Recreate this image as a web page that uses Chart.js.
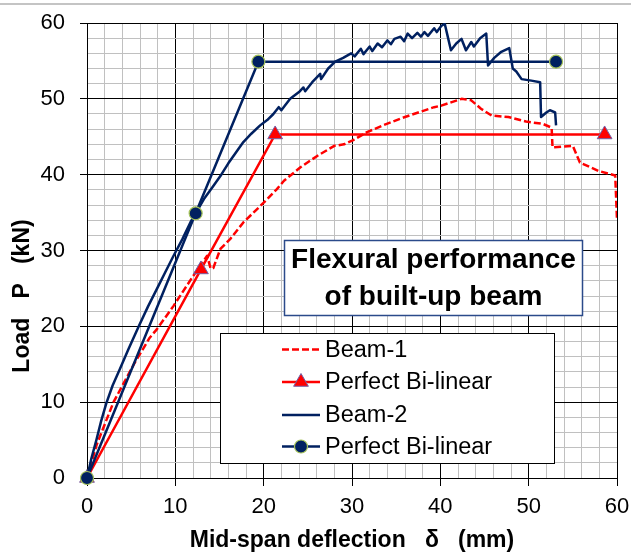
<!DOCTYPE html>
<html><head><meta charset="utf-8">
<script src="https://cdn.jsdelivr.net/npm/chart.js@4.4.1/dist/chart.umd.min.js"></script>
<style>html,body{margin:0;padding:0;background:#fff;}canvas{display:block;}</style>
</head><body>
<canvas id="c" width="631" height="555"></canvas>
<script>
// ---- data ----
const beam1X = [0,1.1,3.0,5.4,7.1,7.9,9.8,12.0,13.0,13.6,14.0,14.3,15.1,16.2,17.7,19.2,20.0,21.5,22.3,24.2,26.1,28.0,29.1,30.2,31.7,33.5,35.5,37.5,39.3,40.1,42.4,43.5,44.6,45.8,47.7,49.7,51.6,52.6,52.7,55.0,55.8,57.9,59.8,60.0];
const beam1Y = [0,4.4,10.0,15.2,18.5,19.6,22.7,26.6,28.3,29.3,27.6,27.7,30.2,31.5,33.7,35.4,36.3,38.1,39.2,41.0,42.5,43.8,44.0,44.6,45.6,46.5,47.4,48.2,48.9,49.1,50.0,49.8,48.7,47.8,47.6,47.0,46.7,46.2,43.6,43.8,41.6,40.5,39.9,34.0];
const bilin1X = [0,12.9,21.3,58.6];
const bilin1Y = [0,27.5,45.3,45.3];
const beam2X = [0,0.5,1.06,1.6,2.2,2.9,3.7,4.7,5.9,6.9,7.9,8.8,9.8,10.8,11.7,12.5,13.3,14.3,15.2,16.0,16.9,17.7,18.6,19.6,20.4,21.1,21.7,22.0,23.0,24.0,24.5,24.7,25.5,26.4,26.5,27.3,28.1,29.0,29.9,30.3,31.0,31.3,32.0,32.3,32.9,33.4,34.0,34.4,34.8,35.5,35.9,36.3,36.8,37.4,37.8,38.2,38.6,39.3,39.6,40.1,40.5,40.8,41.2,41.8,42.4,42.9,43.5,43.8,44.5,45.2,45.4,46.1,46.9,47.8,48.2,48.6,49.2,50.3,51.3,51.4,52.0,52.4,53.0,53.1];
const beam2Y = [0,2.6,5.0,7.5,9.9,12.2,14.3,17.0,20.1,22.6,24.9,27.0,29.3,31.5,33.7,35.3,36.9,38.5,40.0,41.5,43.0,44.3,45.4,46.5,47.2,48.0,48.9,48.5,50.0,50.9,51.5,51.0,52.2,53.3,52.6,54.0,54.9,55.4,56.0,55.6,56.6,55.9,56.9,56.3,57.3,56.8,57.7,57.2,57.9,58.2,57.6,58.6,58.0,58.7,58.2,58.8,58.3,59.3,58.8,59.6,59.9,58.4,56.4,57.3,57.9,56.4,57.5,56.9,58.0,58.6,54.4,55.4,56.2,56.7,54.0,53.6,52.6,52.4,52.2,47.6,48.2,48.5,48.2,46.5];
const bilin2X = [0,12.3,19.4,53.1];
const bilin2Y = [0,34.9,54.9,54.9];
const seriesNames = ['Beam-1','Perfect Bi-linear','Beam-2','Perfect Bi-linear'];
const xTickLabels = [0,10,20,30,40,50,60];
const yTickLabels = [0,10,20,30,40,50,60];
const xTitle = 'Mid-span deflection   \u03b4   (mm)';
const yTitle = 'Load   P   (kN)';
const boxTitle = ['Flexural performance','of built-up beam'];

const FONT = '"Liberation Sans", Arial, Helvetica, sans-serif';
const RED = '#FF0000', NAVY = '#002060';

function pts(xs, ys){ return xs.map((x,i)=>({x:x, y:ys[i]})); }

const majorColor = c => (c.tick && c.tick.value % 10 === 0) ? '#000000' : '#C0C0C0';
const tickCol = c => (c.tick && c.tick.value % 10 === 0) ? '#000000' : 'rgba(0,0,0,0)';

const decorPlugin = {
  id: 'decor',
  beforeDraw(chart){
    const ctx = chart.ctx;
    ctx.save();
    ctx.fillStyle = '#fff';
    ctx.fillRect(0,0,chart.width,chart.height);
    ctx.strokeStyle = '#C4C4C4';
    ctx.lineWidth = 2;
    ctx.beginPath(); ctx.moveTo(0,4); ctx.lineTo(chart.width,4); ctx.stroke();
    ctx.restore();
  },
  afterDraw(chart){
    const ctx = chart.ctx;
    ctx.save();
    // y axis title
    ctx.fillStyle = '#000';
    ctx.font = 'bold 23px ' + FONT;
    ctx.textAlign = 'center'; ctx.textBaseline = 'middle';
    ctx.translate(22.5, 296);
    ctx.rotate(-Math.PI/2);
    ctx.fillText(yTitle, 0, 0);
    ctx.restore();

    // title box
    ctx.save();
    ctx.fillStyle = '#fff';
    ctx.fillRect(284.5, 240.5, 298, 75);
    ctx.strokeStyle = '#2B4A8A'; ctx.lineWidth = 1.5;
    ctx.strokeRect(284.5, 240.5, 298, 75);
    ctx.fillStyle = '#000';
    ctx.font = 'bold 28px ' + FONT;
    ctx.textAlign = 'center'; ctx.textBaseline = 'alphabetic';
    ctx.fillText(boxTitle[0], 433.5, 268);
    ctx.fillText(boxTitle[1], 433.5, 305);
    ctx.restore();

    // legend box
    ctx.save();
    ctx.fillStyle = '#fff';
    ctx.fillRect(220.5, 333.5, 334, 130);
    ctx.strokeStyle = '#000'; ctx.lineWidth = 1;
    ctx.strokeRect(220.5, 333.5, 334, 130);
    const rows = [349.5, 382, 415, 446.5];
    chart.data.datasets.forEach((ds, i) => {
      const y = rows[i];
      ctx.save();
      ctx.strokeStyle = ds.borderColor;
      ctx.lineWidth = ds.borderWidth;
      ctx.setLineDash(ds.borderDash || []);
      ctx.beginPath(); ctx.moveTo(282, y); ctx.lineTo(320, y); ctx.stroke();
      ctx.setLineDash([]);
      if (ds.pointRadius > 0) {
        ctx.fillStyle = ds.pointBackgroundColor;
        ctx.strokeStyle = ds.pointBorderColor;
        ctx.lineWidth = ds.pointBorderWidth;
        Chart.helpers.drawPoint(ctx, {pointStyle: ds.pointStyle, radius: ds.pointRadius, borderWidth: ds.pointBorderWidth, rotation: 0}, 301, y);
      }
      ctx.restore();
      ctx.fillStyle = '#000';
      ctx.font = '23.5px ' + FONT;
      ctx.textAlign = 'left'; ctx.textBaseline = 'middle';
      ctx.fillText(ds.label, 325, y + 1);
    });
    ctx.restore();
  }
};

new Chart(document.getElementById('c'), {
  type: 'line',
  data: {
    datasets: [
      { label: seriesNames[0], data: pts(beam1X, beam1Y), borderColor: RED, borderWidth: 2.5, borderDash: [7,3], pointRadius: 0, tension: 0, borderJoinStyle: 'round', order: 4 },
      { label: seriesNames[1], data: pts(bilin1X, bilin1Y), borderColor: RED, borderWidth: 2.5, pointRadius: 8.5, pointStyle: 'triangle', pointBackgroundColor: RED, pointBorderColor: '#7060A8', pointBorderWidth: 1, tension: 0, clip: false, order: 3 },
      { label: seriesNames[2], data: pts(beam2X, beam2Y), borderColor: NAVY, borderWidth: 2.5, pointRadius: 0, tension: 0, borderJoinStyle: 'round', order: 2 },
      { label: seriesNames[3], data: pts(bilin2X, bilin2Y), borderColor: NAVY, borderWidth: 2.5, pointRadius: 6.5, pointStyle: 'circle', pointBackgroundColor: NAVY, pointBorderColor: '#A6C35A', pointBorderWidth: 1.2, tension: 0, clip: false, order: 1 }
    ]
  },
  options: {
    responsive: false,
    devicePixelRatio: 1,
    animation: false,
    events: [],
    layout: { padding: { left: 0, right: 14, top: 23, bottom: 0 } },
    plugins: { legend: { display: false }, tooltip: { enabled: false } },
    scales: {
      x: {
        type: 'linear', min: 0, max: 60,
        afterFit: s => { s.height = 77; s.paddingLeft = 0; s.paddingRight = 0; },
        ticks: { stepSize: 2, autoSkip: false, maxRotation: 0, padding: 8, color: '#000',
          font: { size: 22, family: FONT },
          callback: v => xTickLabels.includes(v) ? String(v) : '' },
        grid: { color: majorColor, tickColor: tickCol, tickLength: 8, lineWidth: 1 },
        border: { display: true, color: '#000', width: 1 },
        title: { display: true, text: xTitle, color: '#000', font: { size: 23, weight: 'bold', family: FONT }, padding: { top: 0, bottom: 1 } }
      },
      y: {
        type: 'linear', min: 0, max: 60,
        afterFit: s => { s.width = 87; s.paddingTop = 0; s.paddingBottom = 0; },
        ticks: { stepSize: 2, autoSkip: false, padding: 15, color: '#000',
          font: { size: 22, family: FONT },
          callback: v => yTickLabels.includes(v) ? String(v) : '' },
        grid: { color: majorColor, tickColor: tickCol, tickLength: 7, lineWidth: 1 },
        border: { display: true, color: '#000', width: 1 }
      }
    }
  },
  plugins: [decorPlugin]
});
</script>
</body></html>
